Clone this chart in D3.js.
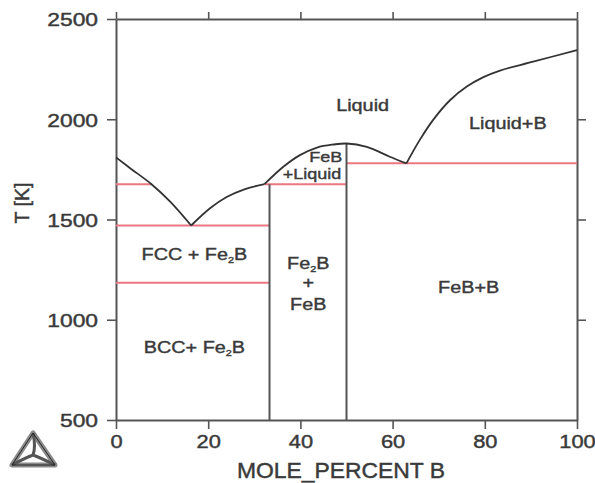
<!DOCTYPE html>
<html>
<head>
<meta charset="utf-8">
<script src="https://cdn.jsdelivr.net/npm/d3@7"></script>
<style>
  html, body { margin: 0; padding: 0; background: #fff; }
  svg { display: block; font-family: "Liberation Sans", Arial, sans-serif; }
  text { fill: #3a3a3a; }
</style>
</head>
<body>
<svg id="chart" width="595" height="483"></svg>
<script>
// axis ticks
const tempTicks = [500, 1000, 1500, 2000, 2500]
const compTicks = [0, 20, 40, 60, 80, 100]
const rightTicks = [1000, 1500, 2000]

// liquidus branches, [mole % B, T in K]
const liqFe = [[0, 1810], [3, 1757], [7.7, 1676], [11.7, 1590], [16.3, 1470]]
const liqFe2B = [[16.3, 1470], [20.4, 1556], [24, 1612], [28, 1652], [32.2, 1676]]
const liqFeB = [[32.2, 1676], [36.3, 1763], [39.9, 1821], [43.6, 1859], [47.2, 1874], [50, 1879],
    [54.4, 1862], [59.4, 1813], [63, 1780]]
const liqB = [[63, 1780], [65.9, 1897], [68.8, 1997], [72.5, 2096], [76.1, 2163], [79.7, 2210],
    [83.3, 2243], [90.5, 2287], [100, 2345]]

// invariant lines (red): [x from, x to, T]
const isotherms = [[0, 7.7, 1676], [0, 33.3, 1470], [0, 33.3, 1185], [32.2, 50, 1676], [50, 100, 1780]]
// compound lines: [x, T bottom, T top]
const compounds = [[33.3, 500, 1676], [50, 500, 1879]]

// phase labels: [text, x, T]
const phaseLabels = [
    ["Liquid", 53.5, 2040],
    ["Liquid+B", 85, 1950],
    ["FeB+B", 76.5, 1135],
    ["FeB", 41.7, 1050],
    ["+", 41.7, 1160],
]
// small labels squeezed under the FeB dome
const domeLabels = [
    ["FeB", 45.5, 1785],
    ["+Liquid", 42.5, 1700],
]
// labels with a Fe2B subscript: [before, after, x, T]
const fe2bLabels = [
    ["FCC + Fe", "B", 17, 1300],
    ["BCC+ Fe", "B", 17, 835],
    ["Fe", "B", 41.7, 1255],
]

const svg = d3.select("#chart")
const x = d3.scaleLinear().domain([0, 100]).range([116, 577])
const y = d3.scaleLinear().domain([500, 2500]).range([420, 19])

const axisColor = "#555"
const ink = "#3a3a3a"

// stretch text horizontally around its anchor (the source image is widened)
function widen(sel, k) {
    sel.each(function () {
        const t = d3.select(this)
        const ax = +t.attr("x") || 0
        t.attr("transform", `translate(${ax},0) scale(${k},1) translate(${-ax},0)`)
    })
}

function styleAxis(g) {
    g.select(".domain").attr("stroke", axisColor).attr("stroke-width", 2)
    g.selectAll(".tick line").attr("stroke", axisColor).attr("stroke-width", 1.6)
    g.selectAll(".tick text")
        .attr("fill", ink)
        .style("font-size", "19px")
        .attr("stroke", ink)
        .attr("stroke-width", 0.45)
}

const left = svg.append("g")
    .attr("transform", `translate(${x(0)},0)`)
    .call(d3.axisLeft(y).tickValues(tempTicks).tickFormat(d3.format("d"))
        .tickSize(9).tickPadding(9).tickSizeOuter(0))
    .call(styleAxis)
left.selectAll(".tick text").attr("dy", "0.36em").call(widen, 1.2)

const bottom = svg.append("g")
    .attr("transform", `translate(0,${y(500)})`)
    .call(d3.axisBottom(x).tickValues(compTicks).tickFormat(d3.format("d"))
        .tickSize(9).tickPadding(6).tickSizeOuter(0))
    .call(styleAxis)
bottom.selectAll(".tick text").call(widen, 1.15)

svg.append("g")
    .attr("transform", `translate(0,${y(2500)})`)
    .call(d3.axisTop(x).tickValues(compTicks).tickSize(7).tickFormat("").tickSizeOuter(0))
    .call(styleAxis)

svg.append("g")
    .attr("transform", `translate(${x(100)},0)`)
    .call(d3.axisRight(y).tickValues(rightTicks).tickSize(9).tickFormat("").tickSizeOuter(0))
    .call(styleAxis)

// red invariant lines
svg.append("g")
    .selectAll("line")
    .data(isotherms)
    .join("line")
    .attr("x1", (d) => x(d[0]))
    .attr("x2", (d) => x(d[1]))
    .attr("y1", (d) => y(d[2]))
    .attr("y2", (d) => y(d[2]))
    .attr("stroke", "#ec7682")
    .attr("stroke-width", 2)

// compound verticals
svg.append("g")
    .selectAll("line")
    .data(compounds)
    .join("line")
    .attr("x1", (d) => x(d[0]))
    .attr("x2", (d) => x(d[0]))
    .attr("y1", (d) => y(d[1]))
    .attr("y2", (d) => y(d[2]))
    .attr("stroke", axisColor)
    .attr("stroke-width", 2)

const line = d3.line()
    .x((d) => x(d[0]))
    .y((d) => y(d[1]))
    .curve(d3.curveCatmullRom.alpha(0.5))

svg.append("g")
    .selectAll("path")
    .data([liqFe, liqFe2B, liqFeB, liqB])
    .join("path")
    .attr("d", line)
    .attr("fill", "none")
    .attr("stroke", "#333")
    .attr("stroke-width", 1.8)
    .attr("stroke-linejoin", "round")

// phase region labels
const labels = svg.append("g")
    .style("font-size", "16.5px")
    .attr("text-anchor", "middle")
    .attr("stroke", ink)
    .attr("stroke-width", 0.4)

labels.selectAll("text.plain")
    .data(phaseLabels)
    .join("text")
    .attr("class", "plain")
    .attr("x", (d) => x(d[1]))
    .attr("y", (d) => y(d[2]))
    .text((d) => d[0])
    .call(widen, 1.2)

labels.selectAll("text.dome")
    .data(domeLabels)
    .join("text")
    .attr("class", "dome")
    .style("font-size", "15px")
    .attr("x", (d) => x(d[1]))
    .attr("y", (d) => y(d[2]))
    .text((d) => d[0])
    .call(widen, 1.2)

labels.selectAll("text.sub")
    .data(fe2bLabels)
    .join("text")
    .attr("class", "sub")
    .attr("x", (d) => x(d[2]))
    .attr("y", (d) => y(d[3]))
    .each(function (d) {
        const t = d3.select(this)
        t.append("tspan").text(d[0])
        t.append("tspan").text("2").style("font-size", "9px").attr("dy", 3)
        t.append("tspan").text(d[1]).attr("dy", -3)
    })
    .call(widen, 1.2)

// axis titles
svg.append("text")
    .attr("x", 341)
    .attr("y", 478)
    .attr("text-anchor", "middle")
    .style("font-size", "22px")
    .attr("stroke", ink)
    .attr("stroke-width", 0.45)
    .text("MOLE_PERCENT B")
    .call(widen, 1.04)

svg.append("text")
    .attr("transform", "translate(29,203) rotate(-90)")
    .attr("text-anchor", "middle")
    .style("font-size", "19.5px")
    .attr("stroke", ink)
    .attr("stroke-width", 0.45)
    .text("T [K]")

// Thermo-Calc style logo
const logo = svg.append("g").attr("transform", "translate(33,455)")
logo.append("path")
    .attr("d", "M0,-22 L-21,10 L22,10 Z")
    .attr("fill", "none")
    .attr("stroke", "#8a8a8a")
    .attr("stroke-width", 5)
    .attr("stroke-linejoin", "round")
logo.append("path")
    .attr("d", "M0,-22 Q3,-8 0,0 M-21,10 Q-8,3 0,0 M22,10 Q8,3 0,0")
    .attr("fill", "none")
    .attr("stroke", "#555")
    .attr("stroke-width", 3)
logo.append("path")
    .attr("d", "M0,-22 L-21,10 L22,10 Z")
    .attr("fill", "none")
    .attr("stroke", "#222")
    .attr("stroke-width", 1)
    .attr("stroke-linejoin", "round")
</script>
</body>
</html>
